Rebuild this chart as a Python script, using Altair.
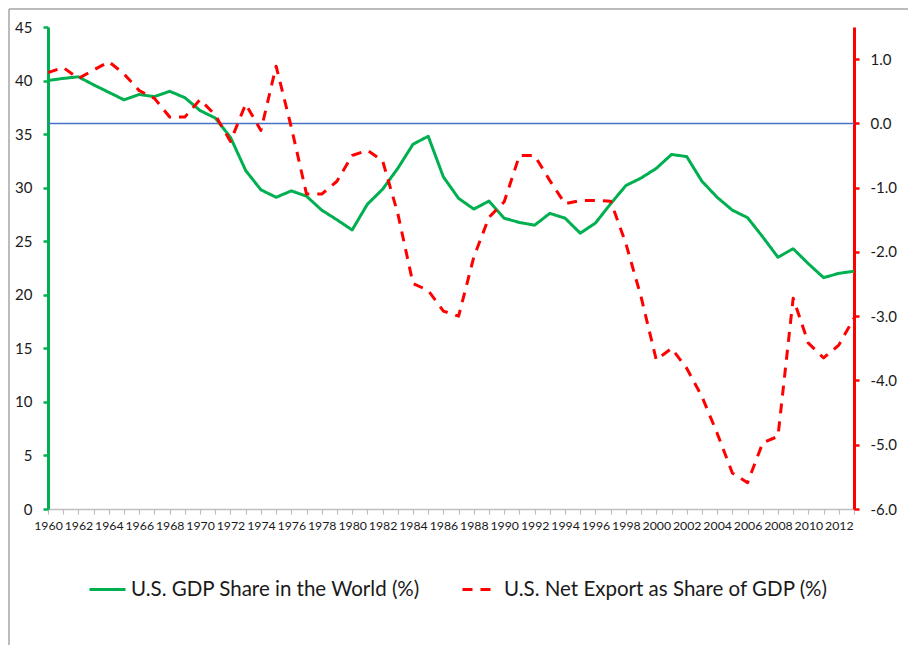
import altair as alt
import pandas as pd

# Years on the category axis
years = [1960, 1961, 1962, 1963, 1964, 1965, 1966, 1967, 1968, 1969,
         1970, 1971, 1972, 1973, 1974, 1975, 1976, 1977, 1978, 1979,
         1980, 1981, 1982, 1983, 1984, 1985, 1986, 1987, 1988, 1989,
         1990, 1991, 1992, 1993, 1994, 1995, 1996, 1997, 1998, 1999,
         2000, 2001, 2002, 2003, 2004, 2005, 2006, 2007, 2008, 2009,
         2010, 2011, 2012, 2013]

# U.S. GDP share in the world, % (left axis)
gdp_share = [40.0, 40.2, 40.35, 39.6, 38.9, 38.2, 38.7, 38.5, 39.0, 38.4,
             37.2, 36.5, 34.7, 31.6, 29.8, 29.1, 29.7, 29.2, 27.9, 27.0,
             26.05, 28.45, 29.85, 31.8, 34.05, 34.8, 31.0, 29.0, 28.0, 28.75,
             27.15, 26.75, 26.5, 27.6, 27.15, 25.75, 26.7, 28.5, 30.2, 30.9,
             31.8, 33.1, 32.9, 30.6, 29.1, 27.9, 27.2, 25.4, 23.5, 24.3,
             22.9, 21.6, 22.0, 22.2]

# U.S. net export as share of GDP, % (right axis)
net_export = [0.79, 0.87, 0.70, 0.83, 0.96, 0.77, 0.51, 0.39, 0.10, 0.10,
              0.37, 0.13, -0.28, 0.30, -0.11, 0.89, -0.06, -1.10, -1.10, -0.90,
              -0.50, -0.42, -0.58, -1.40, -2.49, -2.60, -2.92, -3.00, -2.08, -1.46,
              -1.22, -0.50, -0.50, -0.89, -1.25, -1.20, -1.20, -1.21, -1.87, -2.70,
              -3.68, -3.50, -3.81, -4.25, -4.82, -5.44, -5.59, -4.97, -4.87, -2.72,
              -3.42, -3.65, -3.45, -3.03]

series_names = ["U.S. GDP Share in the World (%)", "U.S. Net Export as Share of GDP (%)"]
left_ticks = [0, 5, 10, 15, 20, 25, 30, 35, 40, 45]
right_ticks = [-6, -5, -4, -3, -2, -1, 0, 1]

GREEN = "#00B050"
RED = "#FF0000"
BLUE = "#4472C4"
FONT = "Lato"
TEXT = "#1a1a1a"

df = pd.DataFrame({"year": years, "gdp": gdp_share, "nx": net_export})
base = alt.Chart(df)

x_enc = alt.X(
    "year:Q",
    scale=alt.Scale(domain=[1960, 2013], nice=False, zero=False),
    axis=alt.Axis(
        title=None, values=years, grid=False,
        labelExpr="datum.value % 2 == 0 ? datum.value : ''",
        labelOverlap=False, labelFlush=False,
        labelFont=FONT, labelFontSize=12.3, labelColor=TEXT, labelPadding=5,
        domainColor="#BFBFBF", domainWidth=1.5,
        tickColor="#BFBFBF", tickSize=5, tickWidth=1.2,
    ),
)

legend = alt.Legend(
    title=None, orient="none", legendX=40, legendY=543, direction="horizontal",
    symbolType="stroke", symbolSize=1296, symbolStrokeWidth=3,
    labelFont=FONT, labelFontSize=20.5, labelColor=TEXT, labelLimit=600,
    labelOffset=4, columnPadding=35,
)
color_enc = alt.Color("series:N", scale=alt.Scale(domain=series_names, range=[GREEN, RED]), legend=legend)
dash_enc = alt.StrokeDash("series:N", scale=alt.Scale(domain=series_names, range=[[1, 0], [10, 8]]), legend=legend)

right_scale = alt.Scale(domain=[-6, 1.5], nice=False, zero=False)

# Zero reference line of the net-export axis
zero_line = alt.Chart(pd.DataFrame({"v": [0]})).mark_rule(color=BLUE, strokeWidth=1.5).encode(
    y=alt.Y("v:Q", scale=right_scale, axis=None)
)

gdp_line = base.transform_calculate(series=f"'{series_names[0]}'").mark_line(
    strokeWidth=3, strokeJoin="round"
).encode(
    x=x_enc,
    y=alt.Y(
        "gdp:Q",
        scale=alt.Scale(domain=[0, 45], nice=False, zero=True),
        axis=alt.Axis(
            orient="left", title=None, values=left_ticks, grid=False,
            labelFont=FONT, labelFontSize=15, labelColor=TEXT, labelPadding=11,
            domainColor=GREEN, domainWidth=3, tickColor=GREEN, tickWidth=2.5, tickSize=5,
        ),
    ),
    color=color_enc,
    strokeDash=dash_enc,
)

nx_line = base.transform_calculate(series=f"'{series_names[1]}'").mark_line(
    strokeWidth=3, strokeJoin="round"
).encode(
    x=x_enc,
    y=alt.Y(
        "nx:Q",
        scale=right_scale,
        axis=alt.Axis(
            orient="right", title=None, values=right_ticks, grid=False,
            labelExpr="(datum.value < 0 ? '-' : '') + format(abs(datum.value), '.1f')",
            labelFont=FONT, labelFontSize=15, labelColor=TEXT, labelPadding=11,
            domainColor=RED, domainWidth=3, tickColor=RED, tickWidth=2.5, tickSize=5,
        ),
    ),
    color=color_enc,
    strokeDash=dash_enc,
)

# Chart-area frame
frame_top = alt.Chart(pd.DataFrame({"k": [0]})).mark_rule(color="#A6A6A6", strokeWidth=1.5).encode(
    x=alt.value(-39), x2=alt.value(880), y=alt.value(-18)
)
frame_left = alt.Chart(pd.DataFrame({"k": [0]})).mark_rule(color="#A6A6A6", strokeWidth=1.5).encode(
    x=alt.value(-39), y=alt.value(-18), y2=alt.value(640)
)

chart = alt.layer(frame_top, frame_left, zero_line, gdp_line, nx_line).resolve_scale(
    y="independent"
).properties(
    width=806, height=482,
    autosize=alt.AutoSizeParams(type="none"),
    padding={"left": 48, "top": 27, "right": 54, "bottom": 136},
    background="white",
).configure_view(stroke=None)

chart.save("out.html", embed_options={"renderer": "svg", "actions": False})
